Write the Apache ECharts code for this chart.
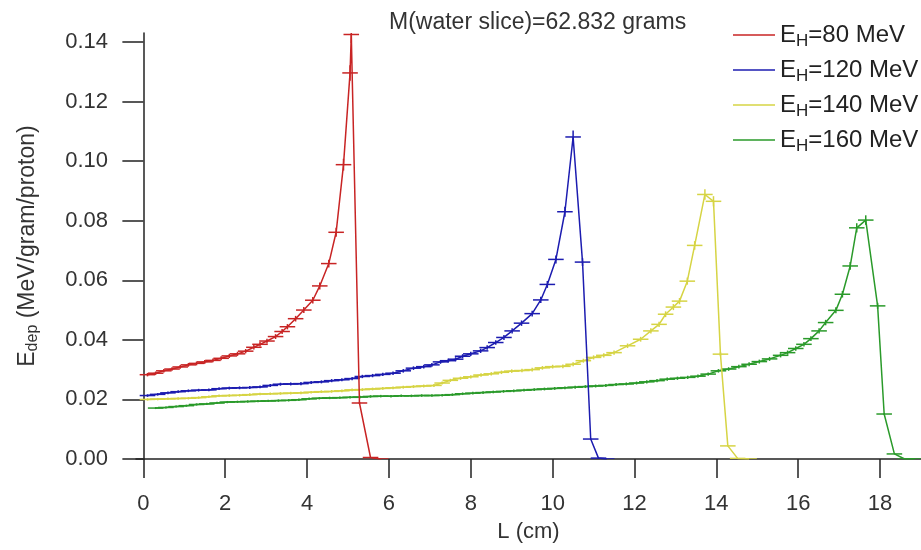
<!DOCTYPE html>
<html>
<head>
<meta charset="utf-8">
<script src="https://cdn.jsdelivr.net/npm/echarts@6/dist/echarts.min.js"></script>
<style>
  html, body { margin: 0; padding: 0; background: #fff; }
  #chart { width: 921px; height: 550px; }
</style>
</head>
<body>
<div id="chart"></div>
<script>
// depth (cm) and energy deposit (MeV/gram/proton) per beam energy
const names = ['80', '120', '140', '160'];
const colors = ['#c82424', '#1c1cb0', '#d6d444', '#2a9a2a'];

const depth80 = [0.1, 0.3, 0.5, 0.7, 0.9, 1.1, 1.3, 1.5, 1.7, 1.9, 2.1, 2.3, 2.5, 2.7, 2.85, 3.02, 3.23, 3.39, 3.52, 3.72, 3.92, 4.14, 4.31, 4.53, 4.71, 4.89, 5.05, 5.08, 5.28, 5.55, 5.8];
const edep80 = [0.0283, 0.0288, 0.0296, 0.0302, 0.0309, 0.0316, 0.0321, 0.0326, 0.0331, 0.0338, 0.0346, 0.0353, 0.0362, 0.0375, 0.0385, 0.0396, 0.0411, 0.0428, 0.0444, 0.0471, 0.0500, 0.0533, 0.0581, 0.0656, 0.0761, 0.0988, 0.1296, 0.1425, 0.0188, 0.0005, 0];

const depth120 = [0.1, 0.35, 0.6, 0.85, 1.1, 1.35, 1.6, 1.85, 2.1, 2.35, 2.6, 2.85, 3.1, 3.35, 3.6, 3.85, 4.1, 4.35, 4.6, 4.85, 5.1, 5.35, 5.6, 5.85, 6.1, 6.35, 6.6, 6.85, 7.05, 7.26, 7.45, 7.63, 7.8, 8.0, 8.24, 8.4, 8.61, 8.81, 9.01, 9.24, 9.5, 9.71, 9.87, 10.08, 10.3, 10.5, 10.73, 10.93, 11.12, 11.32];
const edep120 = [0.0213, 0.0217, 0.0222, 0.0226, 0.0229, 0.0231, 0.0232, 0.0236, 0.0238, 0.0239, 0.0240, 0.0242, 0.0247, 0.0251, 0.0252, 0.0253, 0.0257, 0.0259, 0.0263, 0.0266, 0.0270, 0.0277, 0.0280, 0.0284, 0.0288, 0.0296, 0.0305, 0.0310, 0.0316, 0.0326, 0.0330, 0.0335, 0.0345, 0.0353, 0.0363, 0.0374, 0.0391, 0.0408, 0.0430, 0.0456, 0.0488, 0.0534, 0.0586, 0.0670, 0.0830, 0.1081, 0.0661, 0.0067, 0.0003, 0];

const depth140 = [0.1, 0.35, 0.6, 0.85, 1.1, 1.35, 1.6, 1.85, 2.1, 2.35, 2.6, 2.85, 3.1, 3.35, 3.6, 3.85, 4.1, 4.35, 4.6, 4.85, 5.1, 5.35, 5.6, 5.85, 6.1, 6.35, 6.6, 6.85, 7.1, 7.3, 7.5, 7.75, 8.0, 8.25, 8.5, 8.75, 9.0, 9.25, 9.5, 9.75, 10.0, 10.25, 10.5, 10.75, 11.0, 11.25, 11.5, 11.83, 12.15, 12.4, 12.6, 12.76, 12.95, 13.1, 13.29, 13.47, 13.72, 13.93, 14.1, 14.28, 14.52, 14.8];
const edep140 = [0.0200, 0.0201, 0.0202, 0.0203, 0.0204, 0.0206, 0.0209, 0.0212, 0.0213, 0.0214, 0.0216, 0.0218, 0.0219, 0.0220, 0.0221, 0.0222, 0.0224, 0.0226, 0.0227, 0.0229, 0.0232, 0.0233, 0.0235, 0.0237, 0.0239, 0.0241, 0.0243, 0.0245, 0.0247, 0.0255, 0.0264, 0.0271, 0.0276, 0.0282, 0.0286, 0.0291, 0.0295, 0.0297, 0.0300, 0.0306, 0.0310, 0.0311, 0.0318, 0.0330, 0.0341, 0.0348, 0.0357, 0.0380, 0.0402, 0.0430, 0.0452, 0.0486, 0.0510, 0.0530, 0.0597, 0.0717, 0.0888, 0.0865, 0.0352, 0.0044, 0.0002, 0];

const depth160 = [0.3, 0.55, 0.8, 1.05, 1.3, 1.55, 1.8, 2.05, 2.3, 2.55, 2.8, 3.05, 3.3, 3.55, 3.8, 4.05, 4.3, 4.55, 4.8, 5.05, 5.3, 5.55, 5.8, 6.05, 6.3, 6.55, 6.8, 7.05, 7.3, 7.55, 7.8, 8.05, 8.3, 8.55, 8.8, 9.05, 9.3, 9.55, 9.8, 10.05, 10.3, 10.55, 10.8, 11.05, 11.3, 11.55, 11.8, 12.05, 12.3, 12.55, 12.8, 13.05, 13.3, 13.55, 13.8, 14.05, 14.3, 14.55, 14.8, 15.05, 15.3, 15.57, 15.74, 15.94, 16.14, 16.31, 16.51, 16.67, 16.92, 17.08, 17.27, 17.43, 17.65, 17.94, 18.1, 18.35, 18.6, 18.85];
const edep160 = [0.0171, 0.0173, 0.0176, 0.0179, 0.0183, 0.0185, 0.0188, 0.0191, 0.0192, 0.0193, 0.0194, 0.0195, 0.0196, 0.0197, 0.0199, 0.0202, 0.0204, 0.0205, 0.0206, 0.0207, 0.0208, 0.0210, 0.0211, 0.0211, 0.0212, 0.0212, 0.0213, 0.0213, 0.0214, 0.0216, 0.0219, 0.0221, 0.0223, 0.0225, 0.0227, 0.0229, 0.0231, 0.0233, 0.0235, 0.0237, 0.0239, 0.0241, 0.0243, 0.0245, 0.0247, 0.0250, 0.0252, 0.0255, 0.0259, 0.0263, 0.0268, 0.0271, 0.0274, 0.0278, 0.0285, 0.0296, 0.0302, 0.0310, 0.0318, 0.0327, 0.0336, 0.0348, 0.0357, 0.0371, 0.0385, 0.0404, 0.0430, 0.0458, 0.0499, 0.0553, 0.0648, 0.0776, 0.0802, 0.0514, 0.0151, 0.0017, 0, 0];

const xTicks = [0, 2, 4, 6, 8, 10, 12, 14, 16, 18];
const yTicks = [0, 0.02, 0.04, 0.06, 0.08, 0.10, 0.12, 0.14];

const depths = [depth80, depth120, depth140, depth160];
const edeps = [edep80, edep120, edep140, edep160];

const font = "'Liberation Sans', Arial, sans-serif";
const capHalf = 0.19;   // half bin width (cm)
const relErr = 0.02;    // vertical error bar, fraction of value

const chart = echarts.init(document.getElementById('chart'));

function renderBars(params, api) {
  const x = api.value(0);
  const y = api.value(1);
  const l = api.coord([x - capHalf, y]);
  const r = api.coord([x + capHalf, y]);
  const t = api.coord([x, y * (1 + relErr)]);
  const b = api.coord([x, y * (1 - relErr)]);
  const style = { stroke: api.visual('color'), lineWidth: 1.5 };
  return {
    type: 'group',
    children: [
      { type: 'line', shape: { x1: l[0], y1: l[1], x2: r[0], y2: r[1] }, style: style },
      { type: 'line', shape: { x1: t[0], y1: t[1], x2: b[0], y2: b[1] }, style: style }
    ]
  };
}

const series = [];
names.forEach((name, i) => {
  const pts = depths[i].map((d, k) => [d, edeps[i][k]]);
  series.push({
    name: name,
    type: 'line',
    data: pts,
    showSymbol: false,
    z: 10 - i,
    color: colors[i],
    lineStyle: { width: 1.5 },
    animation: false
  });
  series.push({
    name: name,
    type: 'custom',
    data: pts,
    clip: true,
    z: 10 - i,
    color: colors[i],
    renderItem: renderBars,
    animation: false
  });
});

const option = {
  backgroundColor: '#fff',
  title: {
    text: 'M(water slice)=62.832 grams',
    left: 384,
    top: 6,
    textStyle: { fontFamily: font, fontSize: 23, fontWeight: 'normal', color: '#333' }
  },
  legend: {
    data: names,
    orient: 'vertical',
    left: 728,
    top: 18,
    itemWidth: 42,
    itemHeight: 1.5,
    itemGap: 8,
    icon: 'rect',
    formatter: (name) => `{e|E}{s|H}{e|=${name} MeV}`,
    textStyle: {
      color: '#222',
      rich: {
        e: { fontFamily: font, fontSize: 24, lineHeight: 30, color: '#222' },
        s: { fontFamily: font, fontSize: 17, lineHeight: 17, verticalAlign: 'bottom', color: '#222' }
      }
    }
  },
  grid: { left: 136, right: 0, top: 33, bottom: 91 },
  xAxis: {
    type: 'value',
    min: -0.18,
    max: 19,
    name: 'L (cm)',
    nameLocation: 'middle',
    nameGap: 62,
    nameTextStyle: { fontFamily: font, fontSize: 22, color: '#333' },
    axisLine: { lineStyle: { color: '#222', width: 1.5 } },
    axisTick: { customValues: xTicks, length: 19, lineStyle: { color: '#222', width: 1.5 } },
    axisLabel: { customValues: xTicks, margin: 34, fontFamily: font, fontSize: 22, color: '#333' },
    splitLine: { show: false }
  },
  yAxis: {
    type: 'value',
    min: 0,
    max: 0.143,
    name: '{e|E}{s|dep}{e| (MeV/gram/proton)}',
    nameLocation: 'middle',
    nameGap: 95,
    nameTextStyle: {
      rich: {
        e: { fontFamily: font, fontSize: 23, lineHeight: 27, color: '#333' },
        s: { fontFamily: font, fontSize: 16, lineHeight: 16, verticalAlign: 'bottom', color: '#333' }
      }
    },
    axisLine: { show: true, lineStyle: { color: '#222', width: 1.5 } },
    axisTick: { show: true, customValues: yTicks, length: 21, lineStyle: { color: '#222', width: 1.5 } },
    axisLabel: {
      customValues: yTicks,
      margin: 28,
      fontFamily: font,
      fontSize: 22,
      color: '#333',
      formatter: (v) => v.toFixed(2)
    },
    splitLine: { show: false }
  },
  series: series
};

chart.setOption(option);
</script>
</body>
</html>
